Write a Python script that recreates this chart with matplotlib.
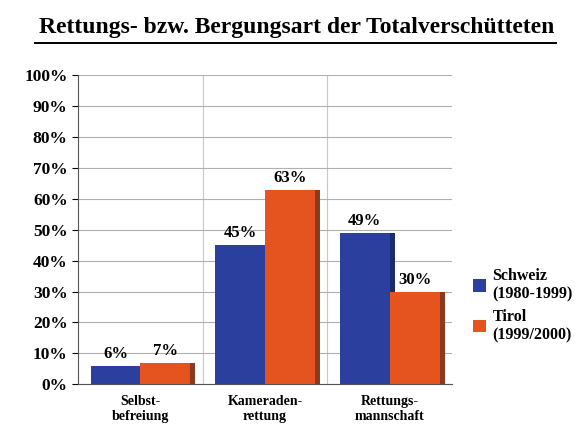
import matplotlib.pyplot as plt
from matplotlib.ticker import MultipleLocator, PercentFormatter
import numpy as np

categories = ["Selbst-\nbefreiung", "Kameraden-\nrettung", "Rettungs-\nmannschaft"]
schweiz = [6, 45, 49]
tirol = [7, 63, 30]
series_names = ["Schweiz\n(1980-1999)", "Tirol\n(1999/2000)"]

blue = "#2b3f9e"
orange = "#e5531f"

plt.rcParams['font.family'] = ['Liberation Serif', 'DejaVu Serif']
plt.rcParams['font.weight'] = 'bold'

fig = plt.figure(figsize=(5.87, 4.41), dpi=100)
ax = fig.add_axes([0.133, 0.129, 0.637, 0.70])

x = np.arange(len(categories))
w = 0.4
b1 = ax.bar(x - w / 2, schweiz, w, color=blue, linewidth=0, label=series_names[0], zorder=3)
b2 = ax.bar(x + w / 2, tirol, w, color=orange, linewidth=0, label=series_names[1], zorder=3)

# dunkle Seitenkante als 3D-Andeutung
for xs, vals, c in [(x - w / 2, schweiz, "#1c2a6e"), (x + w / 2, tirol, "#8a3a1e")]:
    ax.bar(xs + w / 2 + 0.02, vals, 0.04, color=c, linewidth=0, zorder=2)

for bars, vals in [(b1, schweiz), (b2, tirol)]:
    for rect, v in zip(bars, vals):
        ax.text(rect.get_x() + rect.get_width() / 2, v + 1.2, f"{v}%",
                ha="center", va="bottom", fontsize=12, fontweight="bold", zorder=4)

ax.set_ylim(0, 100)
ax.set_xlim(-0.5, 2.5)
ax.yaxis.set_major_locator(MultipleLocator(10))
ax.yaxis.set_major_formatter(PercentFormatter(decimals=0))
ax.grid(axis="y", color="#b0b0b0", linewidth=0.8, zorder=0)
for sep in [0.5, 1.5]:
    ax.axvline(sep, color="#c8c8c8", linewidth=0.8, zorder=0)

ax.set_xticks(x)
ax.set_xticklabels(categories, fontsize=10, fontweight="bold")
ax.tick_params(axis="y", labelsize=12.5, length=4)
ax.tick_params(axis="x", length=0, pad=8)
for lab in ax.get_yticklabels():
    lab.set_fontweight("bold")
for side in ["top", "right"]:
    ax.spines[side].set_visible(False)
ax.spines["left"].set_color("#555555")
ax.spines["bottom"].set_color("#555555")

fig.legend(handles=[b1, b2], loc="upper left", bbox_to_anchor=(0.782, 0.425),
           frameon=False, handlelength=0.8, handleheight=0.8,
           handletextpad=0.4, labelspacing=0.4, prop={"weight": "bold", "size": 11.5})

fig.text(0.505, 0.937, "Rettungs- bzw. Bergungsart der Totalverschütteten",
         ha="center", va="center", fontsize=17, fontweight="bold")
fig.add_artist(plt.Line2D([0.06, 0.948], [0.903, 0.903], color="black", linewidth=1.4))

fig.savefig("out.png", dpi=100)
